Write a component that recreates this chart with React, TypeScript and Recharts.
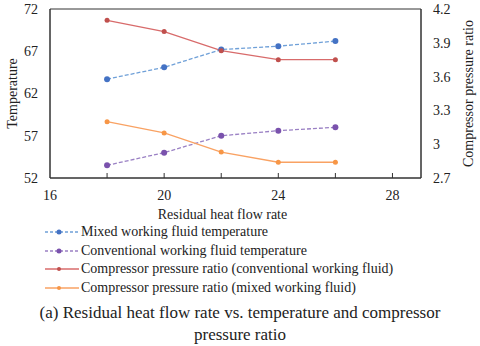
import { Line, LineChart, ReferenceArea, XAxis, YAxis } from 'recharts';

const flowRates = [18, 20, 22, 24, 26];
const mixedTemp = [63.7, 65.1, 67.2, 67.6, 68.2];
const conventionalTemp = [53.5, 55.0, 57.0, 57.6, 58.0];
const ratioConventional = [4.1, 4.0, 3.83, 3.75, 3.75];
const ratioMixed = [3.2, 3.1, 2.93, 2.84, 2.84];

const xTicks = [16, 18, 20, 22, 24, 26, 28];
const tempTicks = [52, 57, 62, 67, 72];
const ratioTicks = [2.7, 3, 3.3, 3.6, 3.9, 4.2];

type Series = {
  key: string;
  name: string;
  axis: 'temp' | 'ratio';
  line: string;
  dot: string;
  dashed: boolean;
  r: number;
};

const series: Series[] = [
  { key: 'mixedTemp', name: 'Mixed working fluid temperature', axis: 'temp', line: '#6fa0d8', dot: '#4472c4', dashed: true, r: 3 },
  { key: 'conventionalTemp', name: 'Conventional working fluid temperature', axis: 'temp', line: '#9a80c4', dot: '#7a52ad', dashed: true, r: 3 },
  { key: 'ratioConventional', name: 'Compressor pressure ratio (conventional working fluid)', axis: 'ratio', line: '#d86b6b', dot: '#c0504d', dashed: false, r: 2.5 },
  { key: 'ratioMixed', name: 'Compressor pressure ratio (mixed working fluid)', axis: 'ratio', line: '#f9a263', dot: '#f79646', dashed: false, r: 2.5 }
];

const data = flowRates.map((x, i) => ({
  x,
  mixedTemp: mixedTemp[i],
  conventionalTemp: conventionalTemp[i],
  ratioConventional: ratioConventional[i],
  ratioMixed: ratioMixed[i]
}));

const FONT = '"Liberation Serif", "Times New Roman", serif';
const INK = '#222';

function XTick(props: any) {
  const { x, y, payload } = props;
  const v = payload.value as number;
  return (
    <g>
      {v !== 16 && <line x1={x} x2={x} y1={y} y2={y - 5} stroke='#333' />}
      {v % 4 === 0 && (
        <text x={x} y={y + 22} textAnchor='middle' fontSize={14} fill={INK} fontFamily={FONT}>
          {v}
        </text>
      )}
    </g>
  );
}

// axis titles, placed relative to the axis viewBox
function XTitle(props: any) {
  const { viewBox } = props;
  const cx = viewBox.x + viewBox.width / 2 - 13;
  return (
    <text x={cx} y={viewBox.y + 41} textAnchor='middle' fontSize={14} fill={INK} fontFamily={FONT}>
      Residual heat flow rate
    </text>
  );
}

function YTitle(props: any) {
  const { viewBox, text, cx } = props;
  const cy = viewBox.y + viewBox.height / 2;
  return (
    <text
      x={cx}
      y={cy}
      transform={`rotate(-90 ${cx} ${cy})`}
      textAnchor='middle'
      dominantBaseline='central'
      fontSize={14}
      fill={INK}
      fontFamily={FONT}
    >
      {text}
    </text>
  );
}

export default function App() {
  return (
    <div style={{ position: 'relative', width: 480, height: 346, background: '#fff', fontFamily: FONT }}>
      <style>{'body{margin:0}'}</style>
      <LineChart width={480} height={240} data={data} margin={{ top: 9, right: 14, bottom: 19, left: 10 }}>
        <XAxis
          dataKey='x'
          type='number'
          domain={[16, 29]}
          ticks={xTicks}
          interval={0}
          tick={<XTick />}
          tickSize={0}
          tickMargin={0}
          tickLine={false}
          axisLine={{ stroke: '#333' }}
          height={43}
          label={<XTitle />}
        />
        <YAxis
          yAxisId='temp'
          domain={[52, 72]}
          ticks={tempTicks}
          interval={0}
          width={40}
          tickSize={0}
          tickMargin={12}
          tickLine={false}
          axisLine={{ stroke: '#333' }}
          tick={{ fontSize: 14, fill: INK, fontFamily: FONT }}
          label={<YTitle text='Temperature' cx={12} />}
        />
        <YAxis
          yAxisId='ratio'
          orientation='right'
          domain={[2.7, 4.2]}
          ticks={ratioTicks}
          interval={0}
          width={45}
          tickSize={0}
          tickMargin={12}
          tickLine={false}
          axisLine={{ stroke: '#333' }}
          tick={{ fontSize: 14, fill: INK, fontFamily: FONT }}
          label={<YTitle text='Compressor pressure ratio' cx={468} />}
        />
        <ReferenceArea yAxisId='temp' x1={16} x2={29} y1={52} y2={72} fill='none' stroke='#333' ifOverflow='extendDomain' />
        {series.map((s) => (
          <Line
            key={s.key}
            yAxisId={s.axis}
            dataKey={s.key}
            name={s.name}
            stroke={s.line}
            strokeWidth={1.3}
            strokeDasharray={s.dashed ? '4 2' : undefined}
            dot={{ r: s.r, fill: s.dot, stroke: s.dot, strokeWidth: 0 }}
            isAnimationActive={false}
          />
        ))}
      </LineChart>
      <div style={{ position: 'absolute', left: 45, top: 223, fontSize: 14, color: INK, lineHeight: '18.5px' }}>
        {series.map((s) => (
          <div key={s.key} style={{ display: 'flex', alignItems: 'center', height: 18.5 }}>
            <svg width={35} height={10} style={{ marginRight: 1 }}>
              <line x1={0} x2={34} y1={5} y2={5} stroke={s.line} strokeWidth={1.3} strokeDasharray={s.dashed ? '3 2' : undefined} />
              <circle cx={14} cy={5} r={s.r - 0.5} fill={s.dot} />
            </svg>
            <span>{s.name}</span>
          </div>
        ))}
      </div>
      <div style={{ position: 'absolute', left: 0, top: 302, width: 480, textAlign: 'center', fontSize: 17, color: INK, lineHeight: '21.5px' }}>
        (a) Residual heat flow rate vs. temperature and compressor
        <br />
        pressure ratio
      </div>
    </div>
  );
}
